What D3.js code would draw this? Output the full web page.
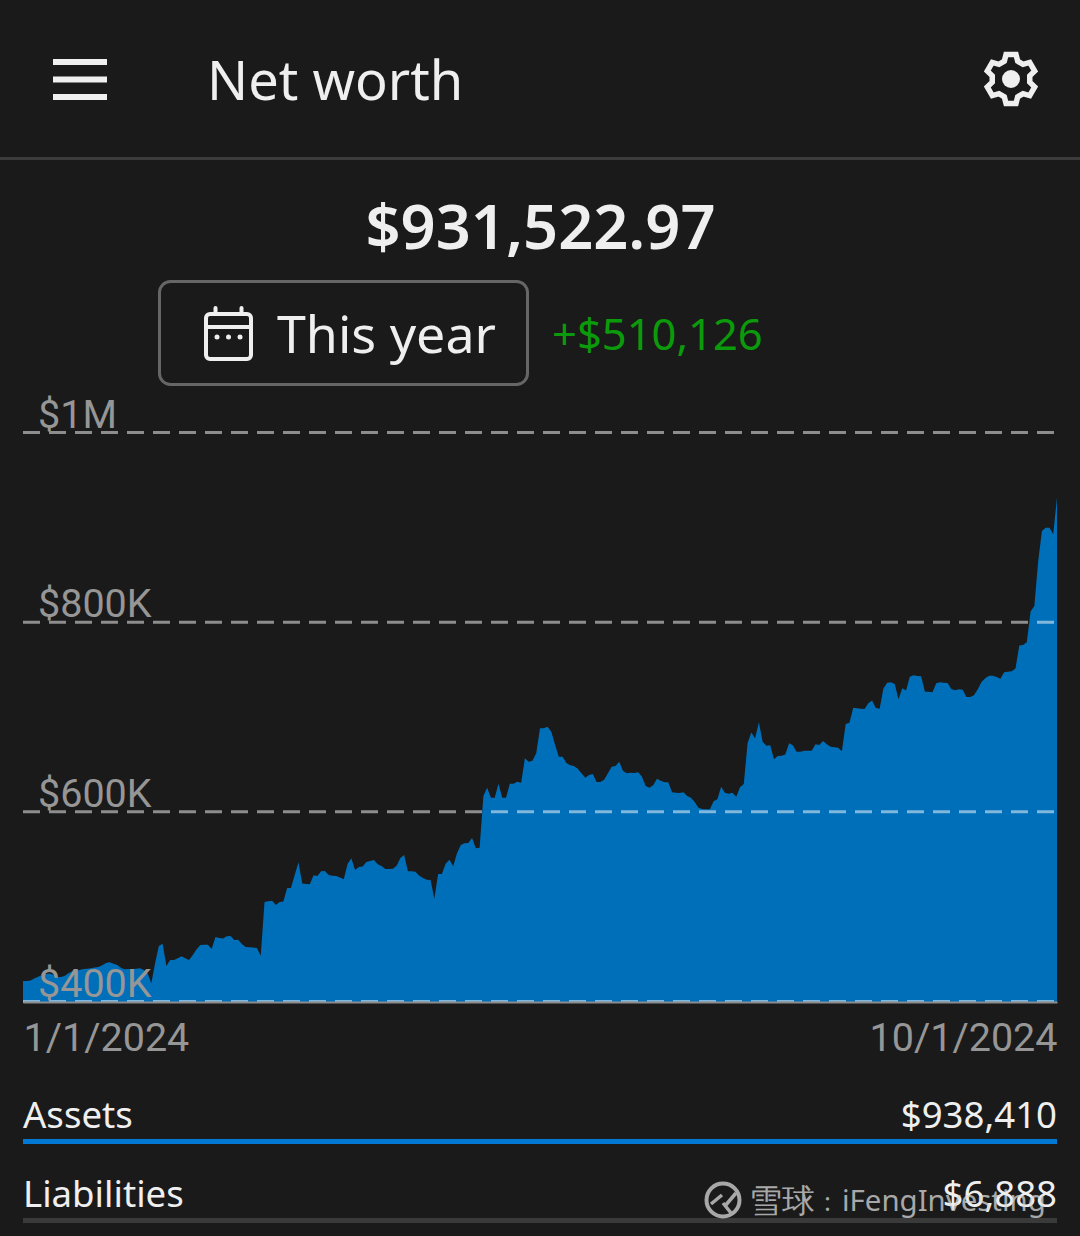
<!DOCTYPE html>
<html>
<head>
  <title>Net worth</title>
  <script src="https://d3js.org/d3.v7.min.js"></script>
  <style>
    html, body { margin: 0; padding: 0; background: #1a1a1a; }
    svg { display: block; }
    text { font-family: "Noto Sans", sans-serif; }
    .tick text, .axis-label { font-family: Roboto, sans-serif; }
  </style>
</head>
<body>

<div id="chart"></div>

<script>
// Net worth in $K, one value per day from 1/1/2024 to 10/1/2024
const startDate = new Date(2024, 0, 1);
const netWorth = [
  421, 421, 421.5, 423.6, 425.7, 427.4, 428.5, 429, 427.8, 425,
  425.3, 426.4, 429.2, 431, 432, 432.7, 433.8, 434.1, 434.5, 435.2,
  435.9, 437.6, 440.1, 440.8, 439.4, 438, 434.8, 433.4, 433.8, 433.8,
  434.1, 434.5, 432.7, 429.2, 418.6, 439.8, 458, 460.5, 437, 443.3,
  443.3, 445, 447.1, 445, 443.3, 448.5, 454.5, 459.1, 459.4, 459.4,
  454.9, 467.5, 466.5, 465.8, 468.2, 468.6, 464.3, 464.7, 460.1, 457,
  456.6, 456.3, 455.9, 447.8, 504.4, 505.1, 505.8, 501.3, 504.4, 504.8,
  519.2, 519.2, 532.9, 546.2, 523.8, 523.4, 523, 532.5, 531.8, 536.8,
  537.1, 532.9, 532.2, 531.8, 530.1, 528.3, 544.5, 550.4, 538.1, 541.3,
  541.7, 546.6, 547.6, 548.7, 544.1, 542.4, 539.2, 539.2, 539.5, 542.7,
  550.8, 554, 536.7, 536.7, 536.4, 532.2, 529.7, 527.9, 527.6, 507.9,
  533.9, 533.9, 544.8, 549, 542, 555.7, 564.5, 566.3, 566.6, 571.9,
  561, 561.7, 616.2, 625, 614.4, 614.4, 629.2, 614.4, 614.4, 629.2,
  629.2, 631.3, 630.2, 655.9, 652.4, 653.4, 661.2, 687.5, 687.5, 689.3,
  684, 670, 657.6, 657.6, 651, 648.5, 647.8, 645, 640.1, 635.5,
  638.3, 639.4, 630.9, 630.9, 633.4, 640.1, 647.1, 647.8, 652.4, 642.5,
  640.1, 640.8, 640.4, 641.1, 636.6, 626.7, 625, 627.4, 634.4, 632.3,
  630.6, 630.6, 620, 619.7, 619.3, 620, 616.2, 614.4, 609.8, 603.9,
  602.5, 602.1, 602.1, 610.6, 612.7, 626, 619.7, 618.6, 619.7, 615.5,
  625.3, 628.8, 671.7, 683, 677, 693.9, 673.5, 669.2, 669.6, 654.8,
  658.4, 658.7, 659.8, 671.7, 669.6, 662.9, 662.9, 664, 664, 664,
  670.7, 670, 674.2, 670.7, 668.2, 667.5, 667.1, 663.3, 692.1, 693.5,
  709.3, 708.6, 708.3, 707.9, 713.9, 717, 709, 708.3, 729.4, 735.7,
  736, 734.3, 718.1, 729.7, 727.3, 742, 743.4, 742.7, 742.4, 726.2,
  726.2, 725.5, 735, 736, 735.7, 735.3, 729, 727.6, 728.7, 728.3,
  720.6, 720.6, 722.3, 728.7, 736.4, 740.3, 743.1, 743.1, 741.7, 739.9,
  746.6, 747.3, 747.6, 750.5, 775, 775.4, 778.2, 810.6, 816.5, 863.3,
  895.6, 899.1, 899.1, 892.1, 931.1
];
const yTicks = [400, 600, 800, 1000];
const xTicks = [new Date(2024, 0, 1), new Date(2024, 9, 1)];

const width = 1080;
const height = 1236;
const margin = { left: 23, right: 23 };

const series = netWorth.map((v, i) => ({ date: d3.timeDay.offset(startDate, i), value: v }));

const svg = d3.select("#chart")
  .append("svg")
  .attr("width", width)
  .attr("height", height);

const xScale = d3.scaleTime()
  .domain(d3.extent(series, d => d.date))
  .range([margin.left, width - margin.right]);

const yScale = d3.scaleLinear()
  .domain([400, 1000])
  .range([1001, 432]);

const white = "#efefef";

// Header
svg.selectAll(".menu-bar")
  .data([0, 1, 2])
  .enter()
  .append("rect")
  .attr("x", 53)
  .attr("y", d => 59 + d * 17.5)
  .attr("width", 54)
  .attr("height", 6)
  .attr("fill", white);

svg.append("text")
  .attr("x", 207)
  .attr("y", 100)
  .attr("font-size", 54.2)
  .attr("fill", white)
  .text("Net worth");

// Settings gear, six teeth
const gearPoints = [];
d3.range(6).forEach(i => {
  const a = i * Math.PI / 3;
  gearPoints.push([a - 0.36, 19], [a - 0.2, 25], [a + 0.2, 25], [a + 0.36, 19]);
});
const gear = svg.append("g").attr("transform", "translate(1011,79)");
gear.append("path")
  .attr("d", d3.lineRadial().curve(d3.curveLinearClosed)(gearPoints))
  .attr("fill", "none")
  .attr("stroke", white)
  .attr("stroke-width", 5.5)
  .attr("stroke-linejoin", "miter");
gear.append("circle").attr("r", 9).attr("fill", white);

svg.append("line")
  .attr("x1", 0).attr("x2", width)
  .attr("y1", 158.5).attr("y2", 158.5)
  .attr("stroke", "#3c3c3c")
  .attr("stroke-width", 3);

// Total
svg.append("text")
  .attr("x", 540.5)
  .attr("y", 249)
  .attr("text-anchor", "middle")
  .attr("font-size", 61.4)
  .attr("font-weight", 600)
  .attr("fill", white)
  .text("$931,522.97");

// Period button
svg.append("rect")
  .attr("x", 159.5)
  .attr("y", 281.5)
  .attr("width", 368)
  .attr("height", 103)
  .attr("rx", 11)
  .attr("fill", "none")
  .attr("stroke", "#666")
  .attr("stroke-width", 3);

const cal = svg.append("g")
  .attr("fill", "none")
  .attr("stroke", white)
  .attr("stroke-width", 4)
  .attr("stroke-linecap", "round");
cal.append("rect").attr("x", 206).attr("y", 314).attr("width", 45).attr("height", 45).attr("rx", 4);
cal.append("line").attr("x1", 206).attr("x2", 251).attr("y1", 327).attr("y2", 327);
cal.append("line").attr("x1", 215.5).attr("x2", 215.5).attr("y1", 308).attr("y2", 313);
cal.append("line").attr("x1", 241.5).attr("x2", 241.5).attr("y1", 308).attr("y2", 313);
svg.selectAll(".cal-dot")
  .data([217, 228.5, 240])
  .enter()
  .append("circle")
  .attr("cx", d => d)
  .attr("cy", 337)
  .attr("r", 2.5)
  .attr("fill", white);

svg.append("text")
  .attr("x", 277)
  .attr("y", 353)
  .attr("font-size", 51.9)
  .attr("fill", white)
  .text("This year");

svg.append("text")
  .attr("x", 552)
  .attr("y", 350)
  .attr("font-size", 43.5)
  .attr("fill", "#0b9a0b")
  .text("+$510,126");

// Area
const area = d3.area()
  .x(d => xScale(d.date))
  .y0(1003)
  .y1(d => yScale(d.value));

svg.append("path")
  .datum(series)
  .attr("d", area)
  .attr("fill", "#006fb9");

// Grid lines and value labels
const yAxis = svg.append("g")
  .attr("transform", `translate(${margin.left},0)`)
  .call(d3.axisRight(yScale)
    .tickValues(yTicks)
    .tickSize(width - margin.left - margin.right)
    .tickFormat(d => d >= 1000 ? `$${d / 1000}M` : `$${d}K`));
yAxis.select(".domain").remove();
yAxis.selectAll(".tick line")
  .attr("stroke", "rgba(255,255,255,0.5)")
  .attr("stroke-width", 3)
  .attr("stroke-dasharray", "17 9");
yAxis.selectAll(".tick text")
  .attr("x", 15)
  .attr("y", -5)
  .attr("dy", 0)
  .attr("text-anchor", "start")
  .attr("font-size", 39.5)
  .attr("font-weight", 400)
  .attr("fill", "#969696");

// Date axis
const xAxis = svg.append("g")
  .attr("transform", "translate(0,1002)")
  .call(d3.axisBottom(xScale)
    .tickValues(xTicks)
    .tickSize(0)
    .tickPadding(0)
    .tickFormat(d3.timeFormat("%-m/%-d/%Y")));
xAxis.select(".domain")
  .attr("stroke", "#8c8c8c")
  .attr("stroke-width", 2);
xAxis.selectAll(".tick text")
  .attr("y", 49)
  .attr("dy", 0)
  .attr("font-size", 39.5)
  .attr("font-weight", 400)
  .attr("fill", "#969696")
  .attr("text-anchor", (d, i) => i === 0 ? "start" : "end");

// Assets and liabilities
svg.append("text").attr("x", 23).attr("y", 1128).attr("font-size", 36.6).attr("fill", white).text("Assets");
svg.append("text").attr("x", 1057).attr("y", 1128).attr("text-anchor", "end").attr("font-size", 36.6).attr("fill", white).text("$938,410");
svg.append("rect").attr("x", 23).attr("y", 1139).attr("width", 1034).attr("height", 5).attr("fill", "#0078d4");

svg.append("text").attr("x", 23).attr("y", 1207).attr("font-size", 36.6).attr("fill", white).text("Liabilities");
svg.append("text").attr("x", 1057).attr("y", 1207).attr("text-anchor", "end").attr("font-size", 36.6).attr("fill", white).text("$6,888");
svg.append("rect").attr("x", 23).attr("y", 1218).attr("width", 1034).attr("height", 5).attr("fill", "#3a3a3a");

// Watermark
const mark = svg.append("g").attr("opacity", 0.75);
mark.append("circle")
  .attr("cx", 723).attr("cy", 1200).attr("r", 16.5)
  .attr("fill", "none").attr("stroke", "#d8d8d8").attr("stroke-width", 4);
mark.append("path")
  .attr("d", "M722 1195 L711 1204 M723 1203 L731 1213 M736 1193 L725 1206")
  .attr("fill", "none").attr("stroke", "#d8d8d8").attr("stroke-width", 3.5);
mark.append("text")
  .attr("x", 749)
  .attr("y", 1212)
  .attr("font-family", "'Noto Sans CJK SC'")
  .attr("font-size", 33)
  .attr("fill", "#d8d8d8")
  .text("雪球");
mark.append("text")
  .attr("x", 824)
  .attr("y", 1211)
  .attr("font-family", "'Noto Sans CJK SC'")
  .attr("font-size", 26)
  .attr("fill", "#d8d8d8")
  .text(":");
mark.append("text")
  .attr("x", 842)
  .attr("y", 1211)
  .attr("font-family", "Roboto")
  .attr("font-size", 29.4)
  .attr("fill", "#d8d8d8")
  .text("iFengInvesting");
</script>

</body>
</html>
